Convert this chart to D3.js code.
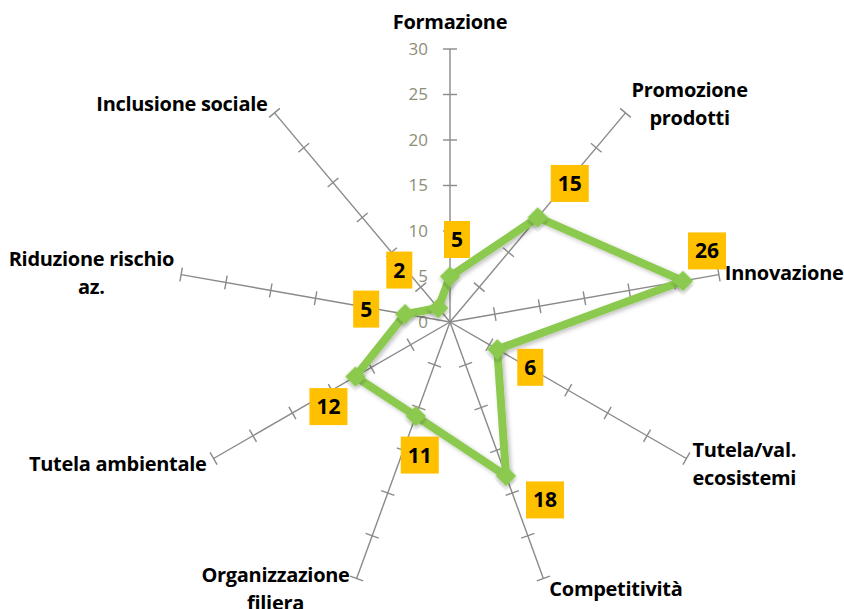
<!DOCTYPE html>
<html>
<head>
<meta charset="utf-8">
<script src="https://cdn.jsdelivr.net/npm/d3@7"></script>
<style>
  body { margin: 0; background: #fff; }
  svg { display: block; }
</style>
</head>
<body>
<svg id="chart" width="844" height="609"></svg>
<script>
// categories, one per radar axis (clockwise from the top)
var categories = ['Formazione', 'Promozione prodotti', 'Innovazione', 'Tutela/val. ecosistemi',
                  'Competitività', 'Organizzazione filiera', 'Tutela ambientale',
                  'Riduzione rischio az.', 'Inclusione sociale']
// how the axis titles wrap
var categoryLines = [['Formazione'], ['Promozione', 'prodotti'], ['Innovazione'],
                     ['Tutela/val.', 'ecosistemi'], ['Competitività'], ['Organizzazione', 'filiera'],
                     ['Tutela ambientale'], ['Riduzione rischio', 'az.'], ['Inclusione sociale']]
var values = [5, 15, 26, 6, 18, 11, 12, 5, 2]
var tickValues = [0, 5, 10, 15, 20, 25, 30]

// where each value box sits relative to its point
var labelNudge = [[7, -37], [32, -34], [24, -30], [33, 18], [39, 24], [4, 39], [-27, 30], [-39, -5], [-39, -38]]

var cx = 450, cy = 322
var green = '#8cc94f', orange = '#ffc000', axisGrey = '#8a8a8a'

var svg = d3.select('#chart')

var defs = svg.append('defs')
var shadow = defs.append('filter').attr('id', 'shadow')
    .attr('x', '-20%').attr('y', '-20%').attr('width', '140%').attr('height', '140%')
shadow.append('feDropShadow')
    .attr('dx', 2).attr('dy', 2).attr('stdDeviation', 2)
    .attr('flood-color', '#000').attr('flood-opacity', 0.25)

var r = d3.scaleLinear().domain([0, 30]).range([0, 273])
var angle = d3.scalePoint().domain(categories).range([0, 2 * Math.PI * (categories.length - 1) / categories.length])

function pos(cat, v) {
    var a = angle(cat)
    return [cx + r(v) * Math.sin(a), cy - r(v) * Math.cos(a)]
}

var g = svg.append('g')

// axes
categories.forEach(function(cat){
    var a = angle(cat)
    var end = pos(cat, 30)
    g.append('line')
        .attr('x1', cx).attr('y1', cy)
        .attr('x2', end[0]).attr('y2', end[1])
        .attr('stroke', axisGrey).attr('stroke-width', 1.4)

    // tick marks across the axis
    tickValues.forEach(function(t){
        if (t === 0) return
        var p = pos(cat, t)
        var nx = Math.cos(a) * 7, ny = Math.sin(a) * 7
        g.append('line')
            .attr('x1', p[0] - nx).attr('y1', p[1] - ny)
            .attr('x2', p[0] + nx).attr('y2', p[1] + ny)
            .attr('stroke', axisGrey).attr('stroke-width', 1.4)
    })
})

// radial tick labels, on the first axis only
g.selectAll('text.tick')
    .data(tickValues)
    .enter()
    .append('text')
    .attr('class', 'tick')
    .attr('x', cx - 22)
    .attr('y', function(d){ return cy - r(d) })
    .attr('dy', '0.35em')
    .attr('text-anchor', 'end')
    .style('font-family', '"Open Sans", sans-serif')
    .style('font-size', '17px')
    .style('fill', '#8d8d78')
    .text(function(d){ return d })

// axis titles
categories.forEach(function(cat, i){
    var a = angle(cat)
    var end = pos(cat, 30)
    var s = Math.sin(a), c = Math.cos(a)
    var lines = categoryLines[i]
    var lh = 28
    var t = g.append('text')
        .style('font-family', '"Open Sans", sans-serif')
        .style('font-weight', 'bold')
        .style('font-size', '20px')
        .style('letter-spacing', '-0.3px')
        .style('fill', '#000')
        .attr('text-anchor', 'middle')
    lines.forEach(function(l){
        t.append('tspan').text(l)
    })
    var w = d3.max(t.selectAll('tspan').nodes(), function(n){ return n.getComputedTextLength() })
    var x, yc
    if (Math.abs(s) < 0.1) {
        x = end[0]
        yc = end[1] - 27
    } else {
        x = s > 0 ? end[0] + 6 + w / 2 : end[0] - 7 - w / 2
        yc = end[1] - c * 11
    }
    t.selectAll('tspan')
        .attr('x', x)
        .attr('y', function(d, j){ return yc - (lines.length - 1) * lh / 2 + j * lh })
        .attr('dy', '0.35em')
})

// series line
var pts = categories.map(function(cat, i){ return pos(cat, values[i]) })
g.append('path')
    .attr('d', d3.line().curve(d3.curveLinearClosed)(pts))
    .attr('fill', 'none')
    .attr('stroke', green)
    .attr('stroke-width', 8)
    .attr('stroke-linejoin', 'round')
    .attr('filter', 'url(#shadow)')

// diamond markers
g.selectAll('path.marker')
    .data(pts)
    .enter()
    .append('path')
    .attr('class', 'marker')
    .attr('d', d3.symbol().type(d3.symbolSquare).size(210))
    .attr('transform', function(d){ return 'translate(' + d[0] + ',' + d[1] + ') rotate(45)' })
    .attr('fill', green)
    .attr('filter', 'url(#shadow)')

// value boxes
var boxes = g.selectAll('g.vlabel')
    .data(values)
    .enter()
    .append('g')
    .attr('class', 'vlabel')
    .attr('transform', function(d, i){
        return 'translate(' + (pts[i][0] + labelNudge[i][0]) + ',' + (pts[i][1] + labelNudge[i][1]) + ')'
    })

boxes.append('text')
    .attr('text-anchor', 'middle')
    .attr('dy', '0.36em')
    .style('font-family', '"Open Sans", sans-serif')
    .style('font-weight', 'bold')
    .style('font-size', '21px')
    .style('fill', '#000')
    .text(function(d){ return d })

boxes.insert('rect', 'text')
    .each(function(){
        var w = this.parentNode.querySelector('text').getComputedTextLength() + 14
        d3.select(this)
            .attr('x', -w / 2).attr('y', -18.5)
            .attr('width', w).attr('height', 37)
    })
    .attr('fill', orange)
</script>
</body>
</html>
